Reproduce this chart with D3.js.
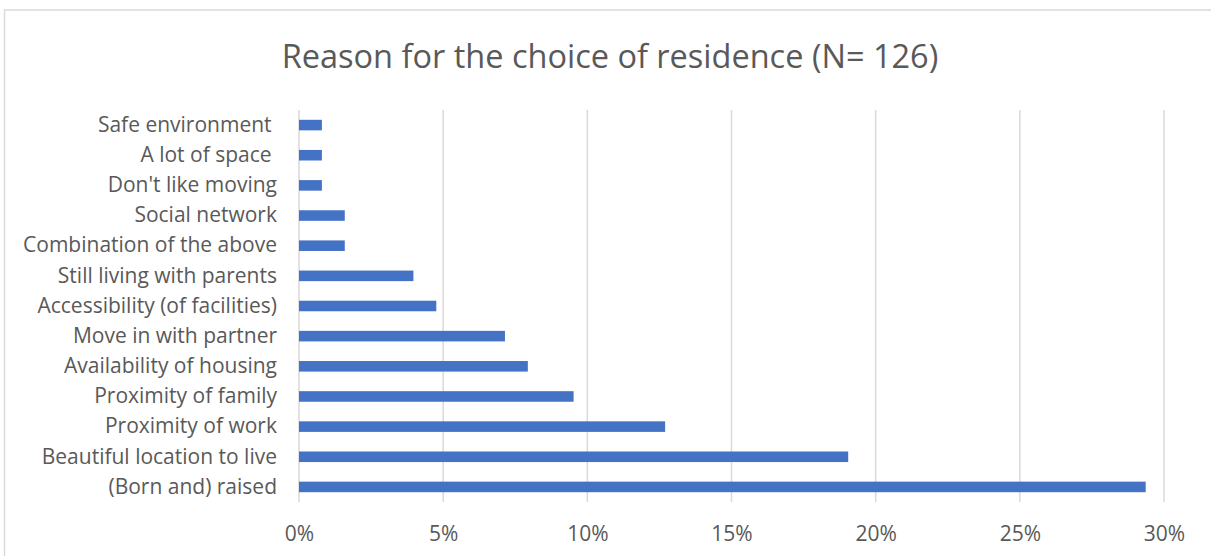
<!DOCTYPE html>
<html>
<head>
<meta charset="utf-8">
<script src="https://cdnjs.cloudflare.com/ajax/libs/d3/7.8.5/d3.min.js"></script>
<style>
  body { margin: 0; background: #fff; }
  text { font-family: 'Open Sans', sans-serif; fill: #595959; }
</style>
</head>
<body>
<div id="chart-area"></div>
<script>
// data (counts out of N = 126, shown as shares)
var reasons = [
  'Safe environment ',
  'A lot of space ',
  "Don't like moving",
  'Social network',
  'Combination of the above',
  'Still living with parents',
  'Accessibility (of facilities)',
  'Move in with partner',
  'Availability of housing',
  'Proximity of family',
  'Proximity of work',
  'Beautiful location to live',
  '(Born and) raised'
]
var counts = [1, 1, 1, 2, 2, 5, 6, 9, 10, 12, 16, 24, 37]
var total = 126
var xTicks = [0, 0.05, 0.1, 0.15, 0.2, 0.25, 0.3]

var W = 1211
var H = 556
var margin = {left: 299, right: 47, top: 110, bottom: 54}
var width = W - margin.left - margin.right
var height = H - margin.top - margin.bottom

var svg = d3.select('#chart-area')
  .append('svg')
  .attr('width', W)
  .attr('height', H)

// chart border (only top and left visible in the crop)
svg.append('rect')
  .attr('x', 4.5)
  .attr('y', 10)
  .attr('width', W + 20)
  .attr('height', H + 20)
  .attr('fill', 'none')
  .attr('stroke', '#d9d9d9')
  .attr('stroke-width', 1.5)

// title
svg.append('text')
  .attr('x', 610)
  .attr('y', 68)
  .attr('text-anchor', 'middle')
  .attr('font-size', '32.5px')
  .text('Reason for the choice of residence (N= 126)')

var g = svg.append('g')
  .attr('transform', 'translate(' + margin.left + ', ' + margin.top + ')')

// scales
var x = d3.scaleLinear()
  .domain([0, 0.3])
  .range([0, width])

var y = d3.scaleBand()
  .domain(reasons)
  .range([0, height])
  .paddingInner(0.65)
  .paddingOuter(0.325)

// gridlines
g.selectAll('.grid')
  .data(xTicks)
  .enter().append('line')
  .attr('class', 'grid')
  .attr('x1', function (d) { return x(d) })
  .attr('x2', function (d) { return x(d) })
  .attr('y1', 0)
  .attr('y2', height)
  .attr('stroke', '#d9d9d9')
  .attr('stroke-width', 1.5)

// x axis (labels only)
var xAxisCall = d3.axisBottom(x)
  .tickValues(xTicks)
  .tickFormat(d3.format('.0%'))
  .tickSize(0)
  .tickPadding(24)
var xAxisGroup = g.append('g')
  .attr('transform', 'translate(0, ' + height + ')')
  .call(xAxisCall)
xAxisGroup.select('.domain').remove()
xAxisGroup.selectAll('text')
  .attr('font-size', '21px')
  .attr('font-family', "'Open Sans', sans-serif")
  .attr('fill', '#595959')

// y axis (labels only), keep trailing spaces like the original labels
var yAxisCall = d3.axisLeft(y)
  .tickSize(0)
  .tickPadding(22)
var yAxisGroup = g.append('g').call(yAxisCall)
yAxisGroup.select('.domain').remove()
yAxisGroup.selectAll('text')
  .attr('font-size', '21px')
  .attr('font-family', "'Open Sans', sans-serif")
  .attr('fill', '#595959')
  .style('white-space', 'pre')

// bars
g.selectAll('.bar')
  .data(reasons)
  .enter().append('rect')
  .attr('class', 'bar')
  .attr('x', x(0))
  .attr('y', function (d) { return y(d) })
  .attr('width', function (d, i) { return x(counts[i] / total) - x(0) })
  .attr('height', y.bandwidth())
  .attr('fill', '#4472c4')
</script>
</body>
</html>
